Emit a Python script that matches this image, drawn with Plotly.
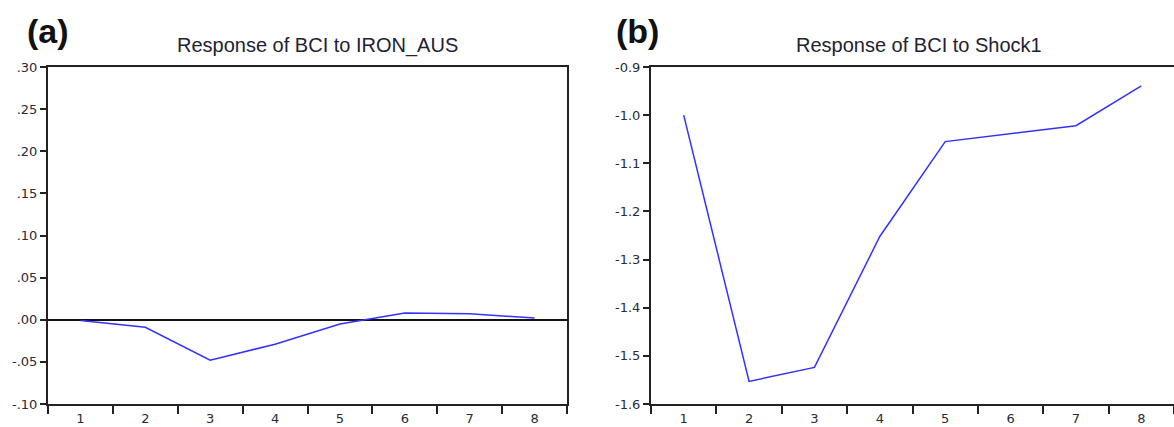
import plotly.graph_objects as go

# ---- data ----
periods = ["1", "2", "3", "4", "5", "6", "7", "8"]
bci_to_iron_aus = [-0.001, -0.009, -0.048, -0.029, -0.005, 0.008, 0.007, 0.002]
bci_to_shock1 = [-1.000, -1.553, -1.524, -1.252, -1.055, -1.039, -1.022, -0.939]

left_ticks = [0.30, 0.25, 0.20, 0.15, 0.10, 0.05, 0.00, -0.05, -0.10]
left_ticktext = [".30", ".25", ".20", ".15", ".10", ".05", ".00", "-.05", "-.10"]
right_ticks = [-0.9, -1.0, -1.1, -1.2, -1.3, -1.4, -1.5, -1.6]
right_ticktext = ["-0.9", "-1.0", "-1.1", "-1.2", "-1.3", "-1.4", "-1.5", "-1.6"]

title_a = "Response of BCI to IRON_AUS"
title_b = "Response of BCI to Shock1"

W, H = 1174, 427
LINE = "rgb(50,50,255)"
AX = "#222222"
TICKFONT = dict(family="DejaVu Sans", size=13, color="#2a2a38")

fig = go.Figure()
fig.add_trace(go.Scatter(x=periods, y=bci_to_iron_aus, mode="lines",
                         line=dict(color=LINE, width=1.5), xaxis="x", yaxis="y",
                         showlegend=False))
fig.add_trace(go.Scatter(x=periods, y=bci_to_shock1, mode="lines",
                         line=dict(color=LINE, width=1.5), xaxis="x2", yaxis="y2",
                         showlegend=False))

ydom = [1 - 404 / H, 1 - 67 / H]

xcommon = dict(type="category", range=[-0.5, 7.5], tickson="boundaries",
               ticks="outside", ticklen=8, tickwidth=2, tickcolor=AX,
               ticklabelstandoff=1,
               showline=True, linecolor=AX, linewidth=2, mirror=True,
               showgrid=False, zeroline=False, tickfont=TICKFONT,
               automargin=False, fixedrange=True)

fig.update_layout(
    width=W, height=H,
    margin=dict(l=0, r=0, t=0, b=0),
    paper_bgcolor="white", plot_bgcolor="white",
    xaxis=dict(domain=[48 / W, 567 / W], anchor="y", **xcommon),
    xaxis2=dict(domain=[651 / W, 1.0], anchor="y2", **xcommon),
    yaxis=dict(domain=ydom, anchor="x", range=[-0.10, 0.30],
               tickvals=left_ticks, ticktext=left_ticktext,
               ticks="outside", ticklen=6, tickwidth=2, tickcolor=AX,
               showline=True, linecolor=AX, linewidth=2, mirror=True,
               showgrid=False, zeroline=True, zerolinecolor="#111111",
               zerolinewidth=2, tickfont=TICKFONT, automargin=False),
    yaxis2=dict(domain=ydom, anchor="x2", range=[-1.6, -0.9],
                tickvals=right_ticks, ticktext=right_ticktext,
                ticks="outside", ticklen=6, tickwidth=2, tickcolor=AX,
                showline=True, linecolor=AX, linewidth=2, mirror=False,
                showgrid=False, zeroline=False, tickfont=TICKFONT,
                automargin=False),
    annotations=[
        dict(text=title_a, x=(48 + 567) / 2 / W + 10 / W, y=1 - 45 / H, xref="paper", yref="paper",
             xanchor="center", yanchor="middle", showarrow=False,
             font=dict(family="Liberation Sans", size=20, color="#222233")),
        dict(text=title_b, x=(651 + 1174) / 2 / W + 6 / W, y=1 - 45 / H, xref="paper", yref="paper",
             xanchor="center", yanchor="middle", showarrow=False,
             font=dict(family="Liberation Sans", size=20, color="#222233")),
        dict(text="<b>(a)</b>", x=48 / W, y=1 - 31 / H, xref="paper", yref="paper",
             xanchor="center", yanchor="middle", showarrow=False,
             font=dict(family="Liberation Sans", size=34, color="#111111")),
        dict(text="<b>(b)</b>", x=637 / W, y=1 - 31 / H, xref="paper", yref="paper",
             xanchor="center", yanchor="middle", showarrow=False,
             font=dict(family="Liberation Sans", size=34, color="#111111")),
    ],
)

fig.write_html("out.html", config={"displayModeBar": False},
               post_script="document.body.style.margin='0';document.body.style.overflow='hidden';")
